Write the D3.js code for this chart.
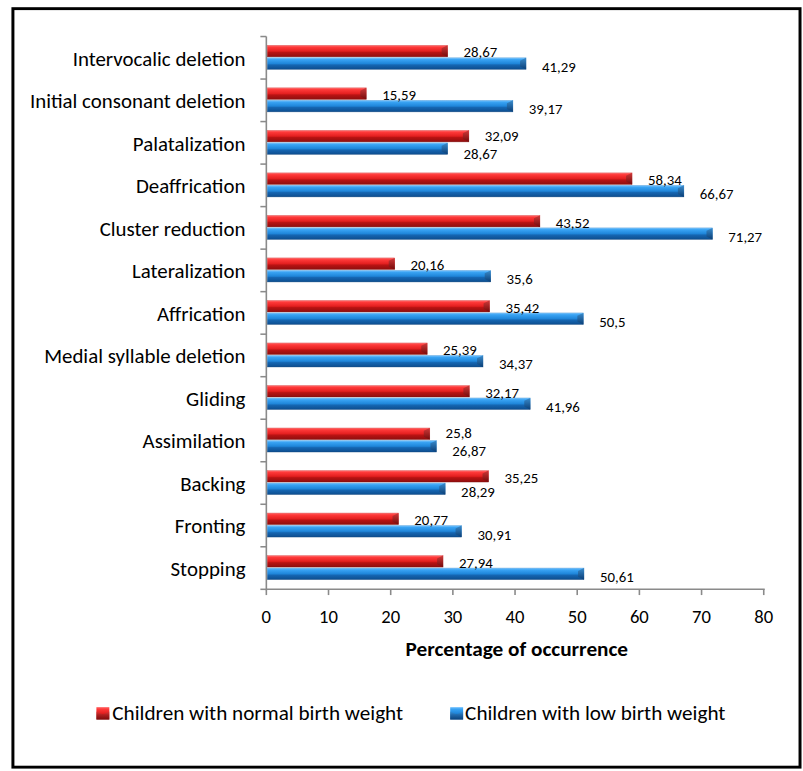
<!DOCTYPE html>
<html>
<head>
<meta charset="utf-8">
<script src="https://cdn.jsdelivr.net/npm/d3@7/dist/d3.min.js"></script>
<style>
  html, body { margin: 0; padding: 0; background: #fff; overflow: hidden; }
  svg { display: block; }
  text { font-family: Carlito, Calibri, Lato, "Open Sans", sans-serif; fill: #000; }
</style>
</head>
<body>
<svg id="chart" width="803" height="771" viewBox="0 0 808 802" preserveAspectRatio="none"></svg>
<script>
const categories = [
  "Intervocalic deletion", "Initial consonant deletion", "Palatalization",
  "Deaffrication", "Cluster reduction", "Lateralization", "Affrication",
  "Medial syllable deletion", "Gliding", "Assimilation", "Backing",
  "Fronting", "Stopping"
];
const normalWeight = [28.67, 15.59, 32.09, 58.34, 43.52, 20.16, 35.42, 25.39, 32.17, 25.8, 35.25, 20.77, 27.94];
const lowWeight    = [41.29, 39.17, 28.67, 66.67, 71.27, 35.6, 50.5, 34.37, 41.96, 26.87, 28.29, 30.91, 50.61];
const seriesNames = ["Children with normal birth weight", "Children with low birth weight"];
const xTicks = [0, 10, 20, 30, 40, 50, 60, 70, 80];
const axisTitle = "Percentage of occurrence";

const svg = d3.select("#chart");
const W = 808, H = 802;

// frame
svg.append("rect").attr("x", 0).attr("y", 0).attr("width", W).attr("height", H).attr("fill", "#fff");
svg.append("rect").attr("x", 13).attr("y", 9).attr("width", 792).attr("height", 789)
  .attr("fill", "none").attr("stroke", "#000").attr("stroke-width", 3);

const plot = { left: 268, right: 768.5, top: 38, bottom: 613 };
const x = d3.scaleLinear().domain([0, 80]).range([plot.left, plot.right]);
const y = d3.scaleBand().domain(categories).range([plot.top, plot.bottom]).padding(0);

// gradients
const defs = svg.append("defs");
function grad(id, stops) {
  const g = defs.append("linearGradient").attr("id", id).attr("x1", 0).attr("y1", 0).attr("x2", 0).attr("y2", 1);
  stops.forEach(s => g.append("stop").attr("offset", s[0]).attr("stop-color", s[1]));
}
grad("gRed", [[0, "#ff7a7a"], [0.15, "#ff3a3a"], [0.5, "#e42020"], [0.62, "#b91313"], [1, "#8e0e0e"]]);
grad("gBlue", [[0, "#86caff"], [0.15, "#3aa4f4"], [0.5, "#1f86da"], [0.62, "#1566b2"], [1, "#0d4d8e"]]);
grad("gRedEnd", [[0, "#d03a3a"], [1, "#740a0a"]]);
grad("gBlueEnd", [[0, "#3a8ccd"], [1, "#0a3e76"]]);

// fit font sizes to measured widths
function fitSize(str, targetW, weight) {
  const t = svg.append("text").attr("font-size", 20).attr("font-weight", weight || "normal").text(str);
  const w = t.node().getComputedTextLength();
  t.remove();
  return 20 * targetW / w;
}
const catSize = fitSize("Initial consonant deletion", 217);
const tickSize = fitSize("80", 19);
const valSize = fitSize("28,67", 34);
const titleSize = fitSize(axisTitle, 224, "bold");
const legSize = fitSize(seriesNames[1], 262);

// axes lines
const axisColor = "#8a8a8a";
svg.append("line").attr("x1", plot.left).attr("x2", plot.left).attr("y1", plot.top).attr("y2", plot.bottom + 1)
  .attr("stroke", axisColor).attr("stroke-width", 1.6);
svg.append("line").attr("x1", plot.left).attr("x2", plot.right + 1).attr("y1", plot.bottom).attr("y2", plot.bottom)
  .attr("stroke", axisColor).attr("stroke-width", 1.6);

// y ticks at band boundaries
const yBounds = categories.map(c => y(c)).concat([plot.bottom]);
svg.selectAll(".ytick").data(yBounds).enter().append("line")
  .attr("x1", plot.left - 6).attr("x2", plot.left).attr("y1", d => d).attr("y2", d => d)
  .attr("stroke", axisColor).attr("stroke-width", 1.6);

// x ticks
svg.selectAll(".xtick").data(xTicks).enter().append("line")
  .attr("x1", d => x(d)).attr("x2", d => x(d)).attr("y1", plot.bottom).attr("y2", plot.bottom + 6)
  .attr("stroke", axisColor).attr("stroke-width", 1.6);
svg.selectAll(".xlab").data(xTicks).enter().append("text")
  .attr("x", d => x(d)).attr("y", 642).attr("text-anchor", "middle").attr("dominant-baseline", "central")
  .attr("font-size", tickSize).text(d => d);

// axis title
svg.append("text").attr("x", 520).attr("y", 675)
  .attr("text-anchor", "middle").attr("dominant-baseline", "central")
  .attr("font-size", titleSize).attr("font-weight", "bold").text(axisTitle);

// category labels
svg.selectAll(".cat").data(categories).enter().append("text")
  .attr("x", 247).attr("y", d => y(d) + y.bandwidth() / 2 + 1)
  .attr("text-anchor", "end").attr("dominant-baseline", "central")
  .attr("font-size", catSize).text(d => d);

// bars
const barH = 12;
const depth = 3;
function drawBar(g, x0, x1, top, fill, endFill) {
  const xe = x1 + depth;
  g.append("rect").attr("x", x0).attr("y", top).attr("width", Math.max(0, xe - x0)).attr("height", barH)
    .attr("fill", fill);
  g.append("polygon")
    .attr("points", [[xe - 6, top + 3], [xe, top], [xe, top + barH], [xe - 6, top + barH - 3]].map(p => p.join(",")).join(" "))
    .attr("fill", endFill);
  g.append("rect").attr("x", x0).attr("y", top).attr("width", Math.max(0, xe - x0)).attr("height", barH)
    .attr("fill", "none").attr("stroke", endFill).attr("stroke-width", 0.6).attr("stroke-opacity", 0.6);
}
const barsG = svg.append("g");
categories.forEach((c, i) => {
  const cy = y(c) + y.bandwidth() / 2;
  const rTop = cy - 13, bTop = cy;
  drawBar(barsG, x(0) + 1, x(normalWeight[i]), rTop, "url(#gRed)", "url(#gRedEnd)");
  drawBar(barsG, x(0) + 1, x(lowWeight[i]), bTop, "url(#gBlue)", "url(#gBlueEnd)");
});
// value labels (nudged apart slightly when the two labels share the same x range)
const fmt = v => String(v).replace(".", ",");
const labelGap = i => Math.abs(normalWeight[i] - lowWeight[i]) < 4 ? 2 : 0;
svg.selectAll(".vr").data(categories).enter().append("text")
  .attr("x", (d, i) => x(normalWeight[i]) + depth + 16)
  .attr("y", (d, i) => y(d) + y.bandwidth() / 2 - 5.5 - labelGap(i))
  .attr("dominant-baseline", "central").attr("font-size", valSize)
  .text((d, i) => fmt(normalWeight[i]));
svg.selectAll(".vb").data(categories).enter().append("text")
  .attr("x", (d, i) => x(lowWeight[i]) + depth + 16)
  .attr("y", (d, i) => y(d) + y.bandwidth() / 2 + 9.5 + labelGap(i))
  .attr("dominant-baseline", "central").attr("font-size", valSize)
  .text((d, i) => fmt(lowWeight[i]));

// legend
const legY = 742;
const legItems = [
  { name: seriesNames[0], mx: 97, tx: 113, fill: "url(#gRed)", end: "url(#gRedEnd)" },
  { name: seriesNames[1], mx: 453, tx: 468, fill: "url(#gBlue)", end: "url(#gBlueEnd)" }
];
legItems.forEach(it => {
  const s = 13;
  svg.append("rect").attr("x", it.mx).attr("y", legY - s / 2).attr("width", s).attr("height", s).attr("fill", it.fill);
  svg.append("polygon")
    .attr("points", [[it.mx, legY - s / 2 + s * 0.35], [it.mx + s / 2, legY + s * 0.1], [it.mx + s, legY - s / 2 + s * 0.35], [it.mx + s, legY + s / 2], [it.mx, legY + s / 2]].map(p => p.join(",")).join(" "))
    .attr("fill", it.end).attr("opacity", 0.7);
  svg.append("text").attr("x", it.tx).attr("y", legY).attr("dominant-baseline", "central")
    .attr("font-size", legSize).text(it.name);
});
</script>
</body>
</html>
